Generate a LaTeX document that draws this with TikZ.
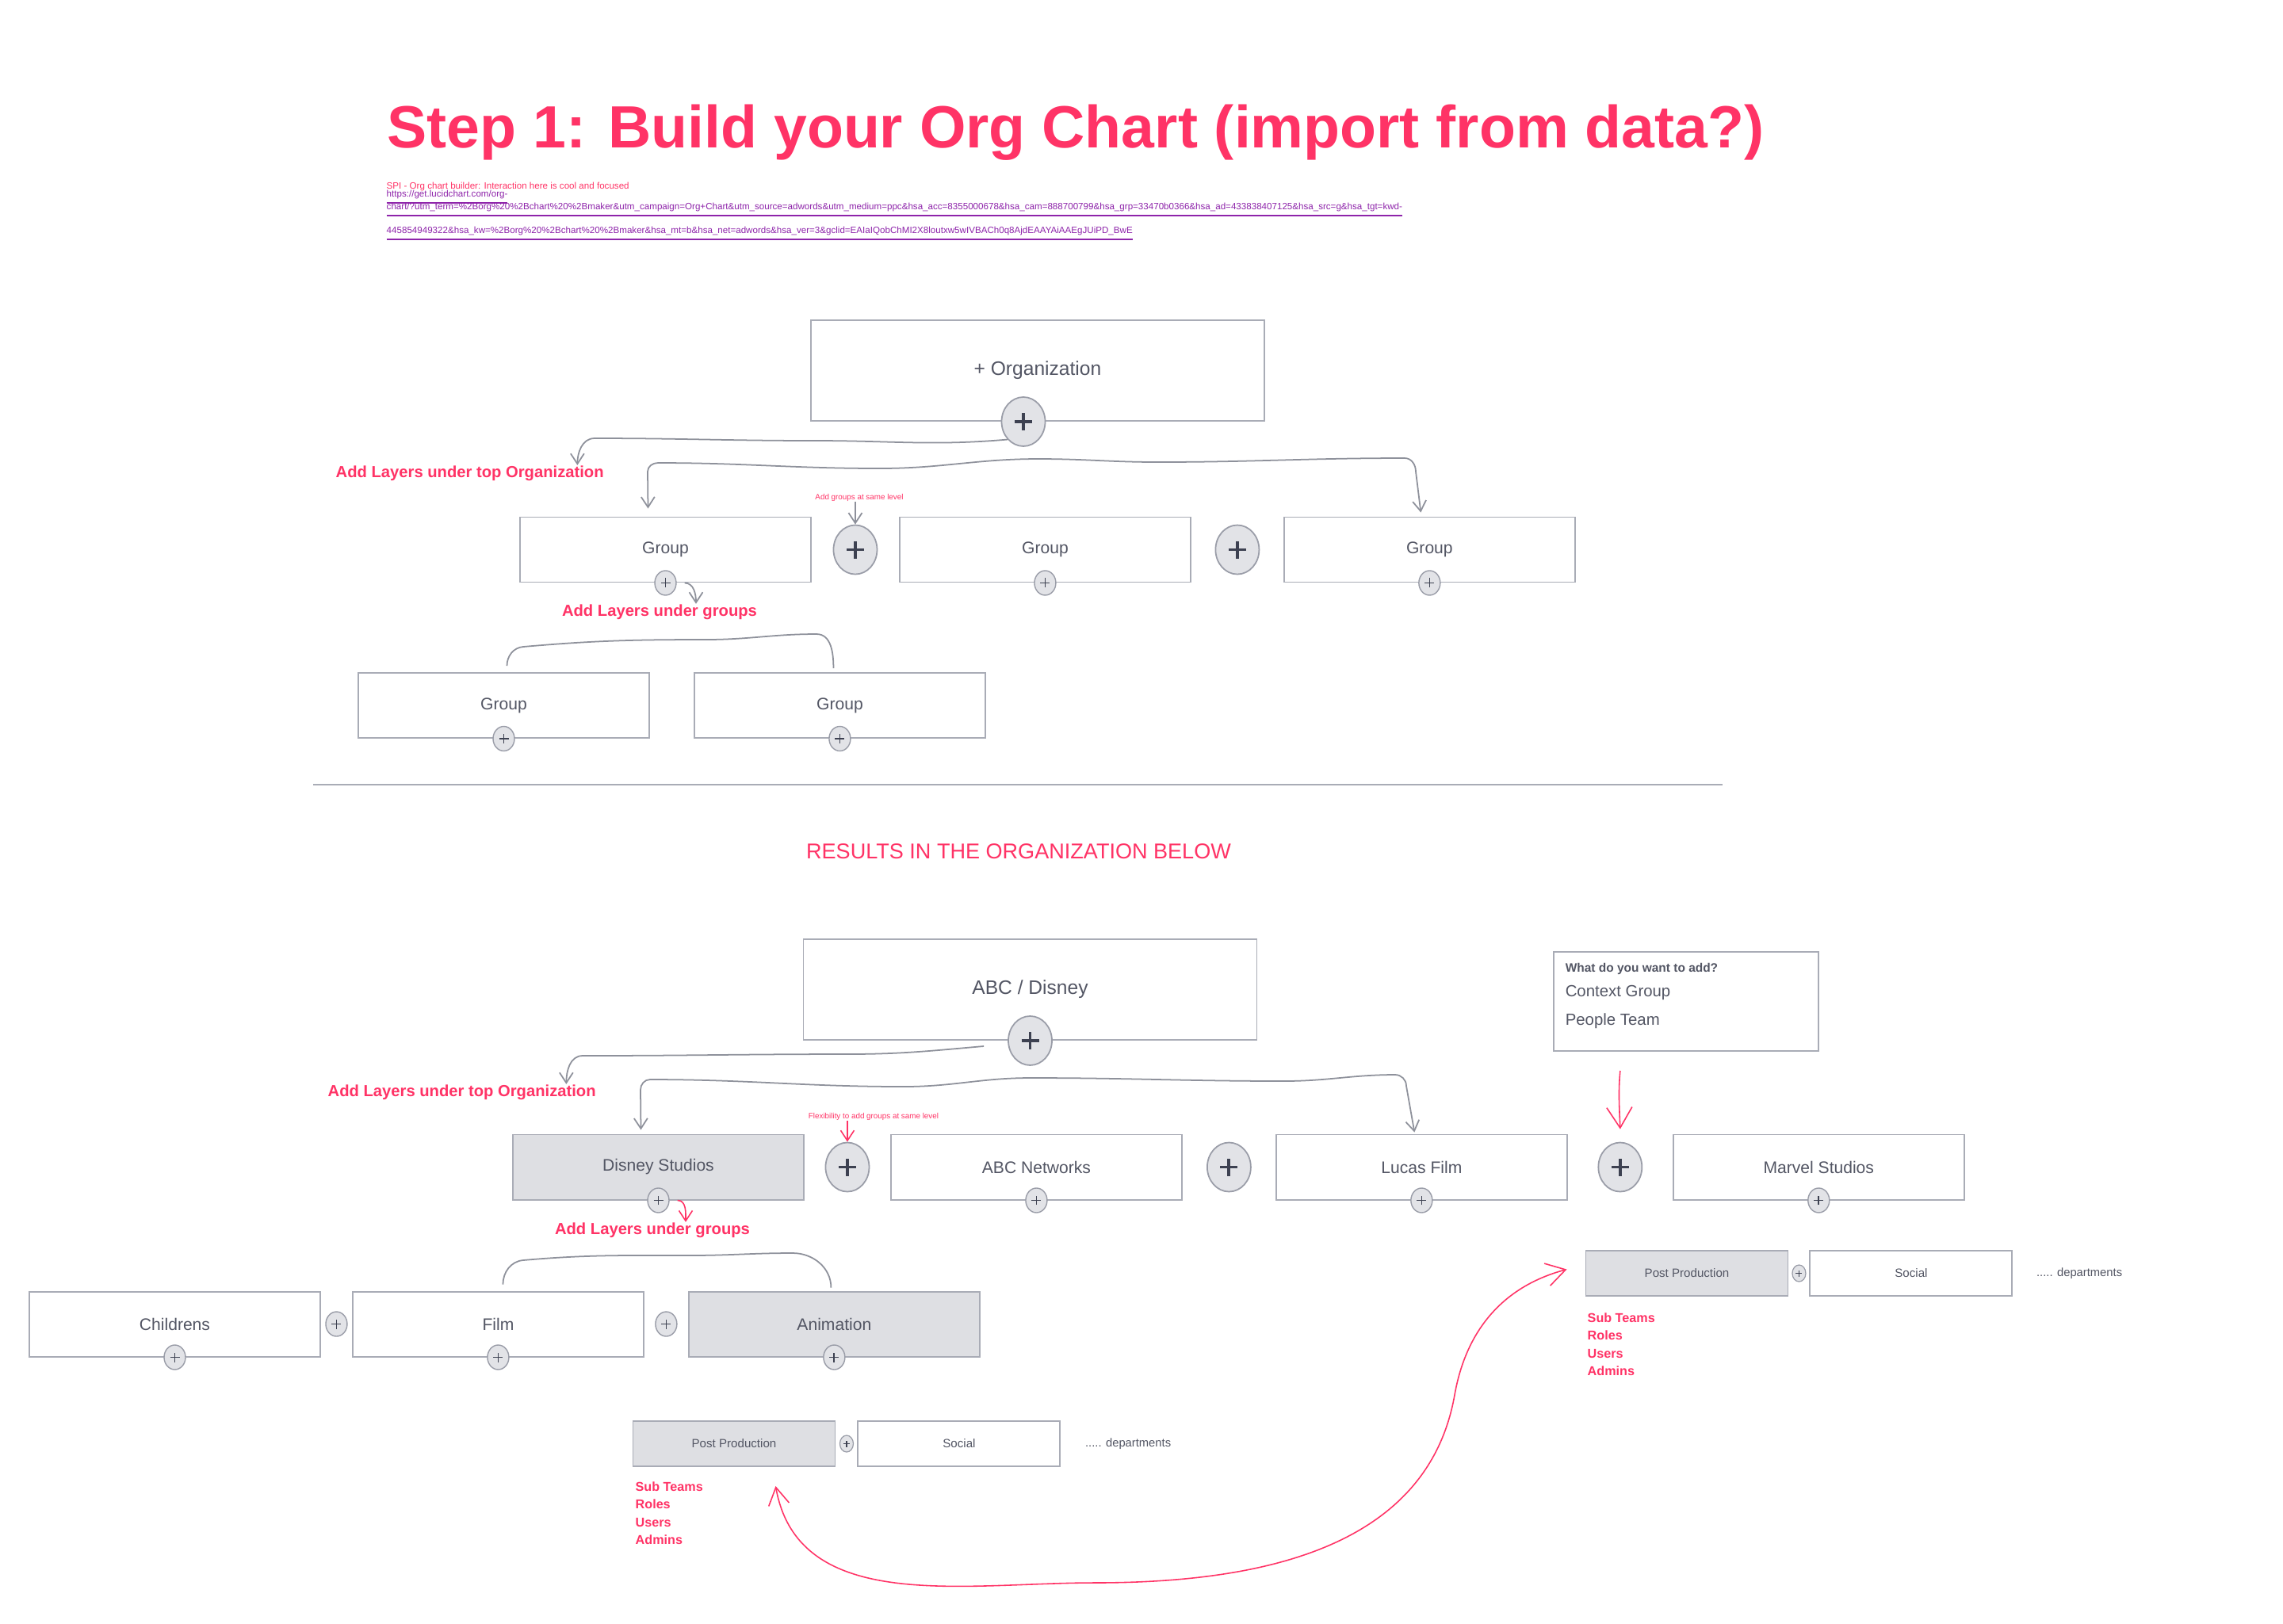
\documentclass[tikz,border=0pt]{standalone}
\usepackage{fontspec}
\setmainfont{Liberation Sans}
\usetikzlibrary{positioning,arrows.meta,calc,shapes.geometric}
\definecolor{pinkc}{HTML}{FF3366}
\definecolor{linkc}{HTML}{8E24AA}
\definecolor{boxline}{HTML}{A9ACB6}
\definecolor{boxtext}{HTML}{535664}
\definecolor{shadegray}{HTML}{DEDFE3}
\definecolor{addfill}{HTML}{E2E3E7}
\definecolor{addline}{HTML}{9A9DA8}
\definecolor{markgray}{HTML}{3D4151}
\definecolor{conngray}{HTML}{8E919B}

% plus mark inside an add button
\newcommand{\addmark}[2]{%
  \draw[markgray, line width=#2]
    ([xshift=-#1]path picture bounding box.center) -- ([xshift=#1]path picture bounding box.center)
    ([yshift=-#1]path picture bounding box.center) -- ([yshift=#1]path picture bounding box.center);}

\begin{document}
\begin{tikzpicture}[
    font=\fontsize{6}{7}\selectfont,
    grp/.style={draw=boxline, line width=0.55pt, fill=white, text=boxtext,
                minimum width=3.67cm, minimum height=0.82cm, inner sep=0pt},
    topbox/.style={grp, minimum width=5.72cm, minimum height=1.27cm,
                   font=\fontsize{7}{8}\selectfont},
    shaded/.style={fill=shadegray},
    dept/.style={grp, minimum width=2.55cm, minimum height=0.57cm,
                 font=\fontsize{4.3}{5}\selectfont},
    addbtn/.style={ellipse, draw=addline, line width=0.5pt, fill=addfill, inner sep=0pt},
    bigadd/.style={addbtn, minimum width=0.55cm, minimum height=0.62cm,
                   path picture={\addmark{0.11cm}{1.1pt}}},
    smalladd/.style={addbtn, line width=0.4pt, minimum width=0.27cm, minimum height=0.31cm,
                     path picture={\addmark{0.06cm}{0.5pt}}},
    tinyadd/.style={addbtn, line width=0.35pt, minimum width=0.17cm, minimum height=0.21cm,
                    path picture={\addmark{0.04cm}{0.35pt}}},
    note/.style={text=pinkc, font=\fontsize{5.75}{7}\selectfont\bfseries, inner sep=0pt},
    tinynote/.style={text=pinkc, font=\fontsize{2.8}{3.4}\selectfont, inner sep=0pt},
    roles/.style={text=pinkc, font=\fontsize{4.6}{6.4}\selectfont\bfseries, align=left, inner sep=0pt},
    more/.style={text=boxtext, font=\fontsize{4.2}{5}\selectfont, inner sep=0pt},
    link/.style={anchor=west, inner sep=0pt, text=linkc, font=\fontsize{3.3}{4}\selectfont},
    conn/.style={draw=conngray, line width=0.5pt},
    arr/.style={conn, -{Straight Barb[length=1.3mm, width=1.7mm]}},
    darr/.style={conn, {Straight Barb[length=1.3mm, width=1.7mm]}-{Straight Barb[length=1.3mm, width=1.7mm]}},
    parr/.style={draw=pinkc, line width=0.45pt, -{Straight Barb[length=1.3mm, width=1.7mm]}},
    qarr/.style={draw=pinkc, line width=0.45pt, -{Straight Barb[length=2.6mm, width=3.2mm]}},
    pdarr/.style={draw=pinkc, line width=0.45pt,
                  {Straight Barb[length=2.2mm, width=2.6mm]}-{Straight Barb[length=2.4mm, width=2.9mm]}},
  ]
  \path[fill=white, use as bounding box] (0,0) rectangle (28.8,-20.48);

  % heading and source note
  \node[anchor=base west, inner sep=0pt, text=pinkc, font=\fontsize{21.4}{25}\selectfont\bfseries]
    (title) at (4.88,-1.86) {Step 1: Build your Org Chart (import from data?)};
  \node[link, text=pinkc] (spi) at (4.87,-2.35) {SPI - Org chart builder: Interaction here is cool and focused};
  \node[link] (url1) at (4.87,-2.49) {\underline{https://get.lucidchart.com/org-}};
  \node[link] (url2) at (4.87,-2.65) {\underline{chart/?utm\_term=\%2Borg\%20\%2Bchart\%20\%2Bmaker\&utm\_campaign=Org+Chart\&utm\_source=adwords\&utm\_medium=ppc\&hsa\_acc=8355000678\&hsa\_cam=888700799\&hsa\_grp=33470b0366\&hsa\_ad=433838407125\&hsa\_src=g\&hsa\_tgt=kwd-}};
  \node[link] (url3) at (4.87,-2.95) {\underline{445854949322\&hsa\_kw=\%2Borg\%20\%2Bchart\%20\%2Bmaker\&hsa\_mt=b\&hsa\_net=adwords\&hsa\_ver=3\&gclid=EAIaIQobChMI2X8loutxw5wIVBACh0q8AjdEAAYAiAAEgJUiPD\_BwE}};

  % builder: top organization
  \node[topbox] (org) at (13.09,-4.675) {+ Organization};
  \node[bigadd] (orgadd) at ([xshift=-0.18cm]org.south) {};
  \node[note, anchor=west] (lblorg) at (4.23,-5.97) {Add Layers under top Organization};

  % builder: first layer
  \node[grp] (g1) at (8.395,-6.935) {Group};
  \node[grp, right=1.1cm of g1] (g2) {Group};
  \node[grp, right=1.16cm of g2] (g3) {Group};
  \node[bigadd] (add1) at ($(g1.east)!0.5!(g2.west)$) {};
  \node[bigadd] (add2) at ($(g2.east)!0.5!(g3.west)$) {};
  \foreach \g in {g1,g2,g3} \node[smalladd] (\g-add) at (\g.south) {};
  \node[tinynote] (lblsame) at (10.84,-6.28) {Add groups at same level};
  \node[note] (lblgrp) at (8.32,-7.72) {Add Layers under groups};

  % builder: second layer
  \node[grp] (g4) at (6.355,-8.9) {Group};
  \node[grp, right=0.55cm of g4] (g5) {Group};
  \foreach \g in {g4,g5} \node[smalladd] (\g-add) at (\g.south) {};

  \draw[arr] (orgadd.south west) to[out=185,in=0] (10.3,-5.56) to[out=180,in=0] (7.5,-5.53)
    to[out=180,in=90] ([xshift=-0.34cm]lblorg.north east);
  \draw[darr] ([xshift=-0.22cm, yshift=0.1cm]g1.north) -- (8.17,-5.95) to[out=90,in=180] (8.3,-5.84)
    to[out=0,in=180] (11.1,-5.91) to[out=0,in=180] (13.1,-5.79) to[out=0,in=180] (14.6,-5.83)
    to[out=0,in=180] (17.72,-5.78) to[out=0,in=90] (17.86,-5.95) -- ([xshift=-0.11cm, yshift=0.05cm]g3.north);
  \draw[arr] (lblsame.south -| add1.north) -- (add1.north);
  \draw[arr] ([xshift=0.1cm]g1-add.east) to[out=0,in=90] ([xshift=0.46cm]lblgrp.north);
  \draw[conn] ([xshift=0.04cm, yshift=0.08cm]g4.north) to[out=90,in=185] (6.6,-8.16)
    to[out=5,in=180] (8.9,-8.07) to[out=0,in=180] (10.3,-8.0) to[out=0,in=90] ([xshift=-0.08cm, yshift=0.05cm]g5.north);

  \draw[boxline, line width=0.5pt] (3.95,-9.9) -- (21.73,-9.9);
  \node[text=pinkc, font=\fontsize{7.7}{9}\selectfont, inner sep=0pt] (results) at (12.85,-10.745)
    {RESULTS IN THE ORGANIZATION BELOW};

  % result: ABC / Disney
  \node[topbox] (abc) at (12.995,-12.485) {ABC / Disney};
  \node[bigadd] (abcadd) at (abc.south) {};
  \node[note, anchor=west] (lblorg2) at (4.13,-13.78) {Add Layers under top Organization};

  \node[grp, shaded] (ds) at (8.305,-14.725) {Disney Studios};
  \node[grp, right=1.08cm of ds] (abcn) {ABC Networks};
  \node[grp, right=1.17cm of abcn] (lucas) {Lucas Film};
  \node[grp, right=1.32cm of lucas] (marvel) {Marvel Studios};
  \node[bigadd] (addA) at ($(ds.east)!0.5!(abcn.west)$) {};
  \node[bigadd] (addB) at ($(abcn.east)!0.5!(lucas.west)$) {};
  \node[bigadd] (addC) at ($(lucas.east)!0.5!(marvel.west)$) {};
  \foreach \g in {ds,abcn,lucas,marvel} \node[smalladd] (\g-add) at (\g.south) {};
  \node[tinynote] (lblflex) at (11.02,-14.09) {Flexibility to add groups at same level};

  % add menu
  \node[grp, minimum width=3.34cm, minimum height=1.25cm] (qbox) at (21.27,-12.635) {};
  \node[anchor=north west, text=boxtext, align=left, inner sep=0pt, font=\fontsize{5.8}{10}\selectfont]
    (qtext) at ([xshift=0.15cm, yshift=-0.15cm]qbox.north west)
    {{\fontsize{4.4}{5}\selectfont\bfseries What do you want to add?}\\[-1.2pt]Context Group\\People Team};

  % result: groups under Disney Studios
  \node[note] (lblgrp2) at (8.23,-15.52) {Add Layers under groups};
  \node[grp] (ch) at (2.205,-16.705) {Childrens};
  \node[grp, right=0.39cm of ch] (film) {Film};
  \node[grp, shaded, right=0.55cm of film] (anim) {Animation};
  \node[smalladd] (ch-side) at ($(ch.east)!0.5!(film.west)$) {};
  \node[smalladd] (film-side) at ($(film.east)!0.5!(anim.west)$) {};
  \foreach \g in {ch,film,anim} \node[smalladd] (\g-add) at (\g.south) {};

  % departments under Animation
  \node[dept, shaded] (ppL) at (9.26,-18.215) {Post Production};
  \node[dept, right=0.27cm of ppL] (socL) {Social};
  \node[tinyadd] (ppL-add) at ($(ppL.east)!0.5!(socL.west)$) {};
  \node[more, right=0.3cm of socL] (deptL) {..... departments};
  \node[roles, anchor=north west] (rolesL) at (8.01,-18.69) {Sub Teams\\Roles\\Users\\Admins};

  % departments under Marvel Studios
  \node[dept, shaded] (ppR) at (21.28,-16.065) {Post Production};
  \node[dept, right=0.26cm of ppR] (socR) {Social};
  \node[tinyadd] (ppR-add) at ($(ppR.east)!0.5!(socR.west)$) {};
  \node[more, right=0.29cm of socR] (deptR) {..... departments};
  \node[roles, anchor=north west] (rolesR) at (20.02,-16.56) {Sub Teams\\Roles\\Users\\Admins};

  \draw[arr] ([xshift=-0.3cm, yshift=-0.07cm]abcadd.west) to[out=185,in=0] (10.7,-13.3)
    to[out=180,in=0] (7.35,-13.32) to[out=180,in=90] ([xshift=-0.38cm]lblorg2.north east);
  \draw[darr] ([xshift=-0.22cm, yshift=0.05cm]ds.north) -- (8.08,-13.75) to[out=90,in=180] (8.2,-13.62)
    to[out=0,in=180] (11.4,-13.71) to[out=0,in=180] (13.0,-13.6) to[out=0,in=180] (16.2,-13.64)
    to[out=0,in=180] (17.6,-13.56) to[out=0,in=90] (17.74,-13.7) -- ([xshift=-0.09cm, yshift=0.02cm]lucas.north);
  \draw[parr] (lblflex.south -| addA.north) -- (addA.north);
  \draw[parr] ([xshift=0.1cm]ds-add.east) to[out=0,in=90] ([xshift=0.42cm]lblgrp2.north);
  \draw[conn] ([xshift=0.06cm, yshift=0.08cm]film.north) to[out=90,in=185] (6.6,-15.9)
    to[out=5,in=180] (8.7,-15.84) to[out=0,in=180] (10.0,-15.81) to[out=0,in=90] ([xshift=-0.04cm, yshift=0.04cm]anim.north);
  \draw[qarr] ($(qbox.south -| addC.north)+(0,-0.24)$) to[out=-95,in=92] ($(addC.north)+(0,0.16)$);
  \draw[pdarr] ($(ppL.south east)+(-0.76,-0.24)$) to[out=-80,in=180] (13.8,-19.97)
    to[out=0,in=-100] (18.35,-17.6) to[out=80,in=195] ($(ppR.west)+(-0.23,0.05)$);
\end{tikzpicture}
\end{document}
